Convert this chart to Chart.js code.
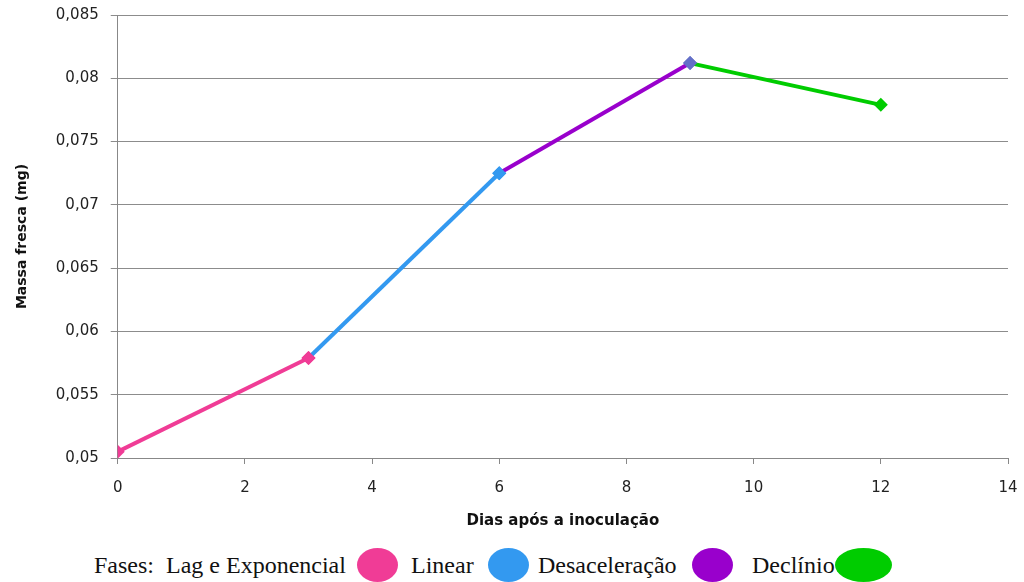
<!DOCTYPE html>
<html>
<head>
<meta charset="utf-8">
<script src="https://cdn.jsdelivr.net/npm/chart.js@4"></script>
<style>
  body { margin: 0; background: #fff; overflow: hidden; }
  #wrap { position: relative; width: 1024px; height: 540px; }
  #legend { position: absolute; left: 0; top: 548px; width: 1024px; height: 34px;
            font-family: "Liberation Serif", serif; font-size: 24px; color: #111; }
  #legend span { position: absolute; top: 0; line-height: 34px; white-space: pre; }
  #legend .dot { height: 34px; border-radius: 50%; }
</style>
</head>
<body>
<div id="wrap"><canvas id="chart-area"></canvas></div>
<div id="legend"></div>
<script>
// dias após a inoculação e massa fresca (mg)
var dias = [0, 3, 6, 9, 12];
var massa = [0.0505, 0.0579, 0.0725, 0.0812, 0.0779];

var fases = ['Lag e Exponencial', 'Linear', 'Desaceleração', 'Declínio'];
var cores = ['rgb(240, 60, 150)', 'rgb(51, 153, 240)', 'rgb(153, 0, 204)', 'rgb(0, 204, 0)'];
// cor dos marcadores em cada ponto
var coresPontos = ['rgb(240, 60, 150)', 'rgb(240, 60, 150)', 'rgb(51, 153, 240)', 'rgb(100, 112, 200)', 'rgb(0, 204, 0)'];

// um trecho por fase, ligando pontos consecutivos
var datasets = fases.map(function (f, i) {
  return {
    label: f,
    data: [{x: dias[i], y: massa[i]}, {x: dias[i + 1], y: massa[i + 1]}],
    borderColor: cores[i],
    backgroundColor: [coresPontos[i], coresPontos[i + 1]],
    pointBackgroundColor: [coresPontos[i], coresPontos[i + 1]],
    pointBorderWidth: 0,
    pointStyle: 'rectRot',
    pointRadius: 7,
    borderWidth: 4,
    tension: 0
  };
});
// o último trecho fica por baixo do marcador de 9 dias
datasets.reverse();

var tickFont = { family: 'DejaVu Sans', size: 15 };

var config = {
  type: 'line',
  data: { datasets: datasets },
  options: {
    responsive: true,
    maintainAspectRatio: false,
    animation: false,
    layout: { padding: { left: 10, right: 16, top: 15, bottom: 6 } },
    plugins: { legend: { display: false }, tooltip: { enabled: false } },
    scales: {
      x: {
        type: 'linear', min: 0, max: 14,
        ticks: { stepSize: 2, color: '#222', font: tickFont, padding: 15 },
        grid: { drawOnChartArea: false, drawTicks: true, tickLength: 6, color: '#888' },
        border: { color: '#888', width: 1 },
        title: { display: true, text: 'Dias após a inoculação', color: '#111',
                 font: { family: 'DejaVu Sans', size: 15, weight: 'bold' }, padding: { top: 0 } },
        // a margem da direita fica só com o layout.padding
        afterFit: function (scale) { scale.paddingRight = 0; }
      },
      y: {
        min: 0.05, max: 0.085,
        ticks: {
          stepSize: 0.005, color: '#222', font: tickFont, padding: 12,
          callback: function (v) { return Number(v.toFixed(3)).toString().replace('.', ','); }
        },
        grid: { color: '#8c8c8c', tickLength: 7, lineWidth: 1 },
        border: { color: '#888', width: 1 },
        title: { display: true, text: 'Massa fresca (mg)', color: '#111',
                 font: { family: 'DejaVu Sans', size: 14, weight: 'bold' }, padding: { bottom: 13 } },
        afterFit: function (scale) { scale.paddingTop = 0; }
      }
    }
  }
};

// legenda das fases: texto e elipse colorida de cada fase
var legTextos = ['Fases:', 'Lag e Exponencial', 'Linear', 'Desaceleração', 'Declínio'];
var legTextoX = [94, 166, 411, 538, 752];
var legElipseX = [357, 488, 692, 835];
var legElipseW = [41, 41, 41, 57];

var leg = document.getElementById('legend');
legTextos.forEach(function (t, i) {
  var s = document.createElement('span');
  s.textContent = t;
  s.style.left = legTextoX[i] + 'px';
  leg.appendChild(s);
});
cores.forEach(function (c, i) {
  var d = document.createElement('span');
  d.className = 'dot';
  d.style.left = legElipseX[i] + 'px';
  d.style.width = legElipseW[i] + 'px';
  d.style.background = c;
  leg.appendChild(d);
});

window.onload = function () {
  var ctx = document.getElementById('chart-area').getContext('2d');
  window.myLine = new Chart(ctx, config);
};
</script>
</body>
</html>
